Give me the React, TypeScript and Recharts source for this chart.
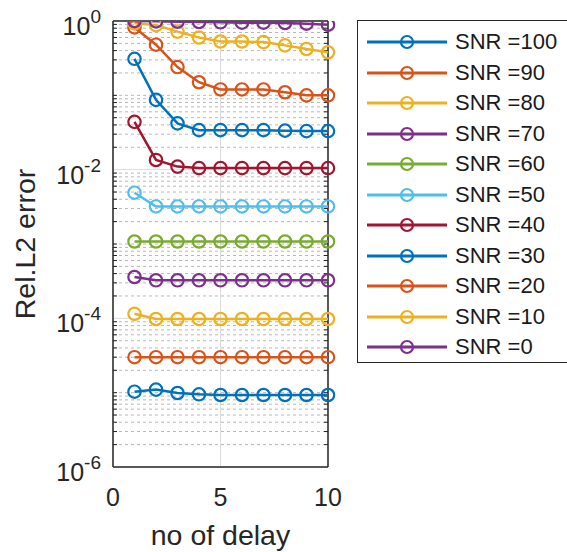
// Rel. L2 error vs number of delays, one line per SNR level (MATLAB-style log plot)

import React from 'react'
import {
  LineChart,
  Line,
  XAxis,
  YAxis,
  CartesianGrid,
  Legend,
  ReferenceLine,
} from 'recharts'

const DELAYS = [1, 2, 3, 4, 5, 6, 7, 8, 9, 10]

const SNR_LEVELS = [100, 90, 80, 70, 60, 50, 40, 30, 20, 10, 0]

const ERR_SNR100 = [1.03e-5, 1.1e-5, 9.9e-6, 9.5e-6, 9.3e-6, 9.3e-6, 9.3e-6, 9.3e-6, 9.3e-6, 9.3e-6]
const ERR_SNR90 = [3.0e-5, 3.0e-5, 3.0e-5, 3.0e-5, 3.0e-5, 3.0e-5, 3.0e-5, 3.0e-5, 3.0e-5, 3.0e-5]
const ERR_SNR80 = [1.15e-4, 9.8e-5, 9.8e-5, 9.8e-5, 9.8e-5, 9.8e-5, 9.8e-5, 9.8e-5, 9.8e-5, 9.8e-5]
const ERR_SNR70 = [3.6e-4, 3.25e-4, 3.25e-4, 3.25e-4, 3.25e-4, 3.25e-4, 3.25e-4, 3.25e-4, 3.25e-4, 3.25e-4]
const ERR_SNR60 = [1.08e-3, 1.08e-3, 1.08e-3, 1.08e-3, 1.08e-3, 1.08e-3, 1.08e-3, 1.08e-3, 1.08e-3, 1.08e-3]
const ERR_SNR50 = [4.9e-3, 3.2e-3, 3.2e-3, 3.2e-3, 3.2e-3, 3.2e-3, 3.2e-3, 3.2e-3, 3.2e-3, 3.2e-3]
const ERR_SNR40 = [0.044, 0.0135, 0.011, 0.0105, 0.0105, 0.0105, 0.0105, 0.0105, 0.0105, 0.0105]
const ERR_SNR30 = [0.31, 0.087, 0.042, 0.034, 0.034, 0.034, 0.034, 0.0335, 0.033, 0.033]
const ERR_SNR20 = [0.82, 0.48, 0.24, 0.15, 0.12, 0.12, 0.12, 0.11, 0.1, 0.1]
const ERR_SNR10 = [0.93, 0.88, 0.72, 0.6, 0.53, 0.53, 0.52, 0.47, 0.42, 0.38]
const ERR_SNR0 = [1.0, 0.99, 0.98, 0.97, 0.96, 0.95, 0.95, 0.94, 0.92, 0.89]

const SERIES_VALUES = [
  ERR_SNR100, ERR_SNR90, ERR_SNR80, ERR_SNR70, ERR_SNR60, ERR_SNR50,
  ERR_SNR40, ERR_SNR30, ERR_SNR20, ERR_SNR10, ERR_SNR0,
]

// MATLAB default colour order, cycling
const SERIES_COLORS = [
  '#0072BD', '#D95319', '#EDB120', '#7E2F8E', '#77AC30', '#4DBEEE',
  '#A2142F', '#0072BD', '#D95319', '#EDB120', '#7E2F8E',
]

const X_TICKS = [0, 5, 10]
const Y_MAJOR_TICKS = [1e-6, 1e-4, 1e-2, 1]

// minor log grid: every 1..9 x 10^k that is not a labelled tick
const Y_MINOR_TICKS: number[] = []
for (let k = -6; k < 0; k++) {
  for (let m = 1; m <= 9; m++) {
    if (!(m === 1 && k % 2 === 0)) Y_MINOR_TICKS.push(m * Math.pow(10, k))
  }
}

const key = (snr: number) => `snr${snr}`

const data = DELAYS.map((d, i) => {
  const row: Record<string, number> = { x: d }
  SNR_LEVELS.forEach((snr, s) => {
    row[key(snr)] = SERIES_VALUES[s][i]
  })
  return row
})

const FONT = '"Liberation Sans", Arial, Helvetica, sans-serif'
const INK = '#262626'

// short inward tick marks on the left and right frame edges
function MinorTickMark(props: any) {
  const { x1, x2, y1 } = props
  return (
    <g>
      <line x1={x1} x2={x1 + 4} y1={y1} y2={y1} stroke={INK} strokeWidth={1} />
      <line x1={x2 - 4} x2={x2} y1={y1} y2={y1} stroke={INK} strokeWidth={1} />
    </g>
  )
}

function PowerTick(props: any) {
  const { x, y, payload } = props
  const exp = Math.round(Math.log10(payload.value))
  return (
    <text x={x} y={y + 14} textAnchor="end" fill={INK} fontFamily={FONT} fontSize={25}>
      10
      <tspan dy={-12} fontSize={19}>{exp}</tspan>
    </text>
  )
}

function SnrLegend() {
  return (
    <div
      style={{
        border: `1.5px solid ${INK}`,
        background: '#fff',
        padding: '6px 0 0 0',
        boxSizing: 'border-box',
        height: 343,
        fontFamily: FONT,
      }}
    >
      {SNR_LEVELS.map((snr, s) => (
        <div key={snr} style={{ display: 'flex', alignItems: 'center', height: 30.5 }}>
          <svg width={97} height={30} style={{ flex: 'none' }}>
            <line x1={9} x2={89} y1={15} y2={15} stroke={SERIES_COLORS[s]} strokeWidth={2.8} />
            <circle cx={49} cy={15} r={6} fill="none" stroke={SERIES_COLORS[s]} strokeWidth={2.2} />
          </svg>
          <span style={{ fontSize: 22, color: '#1a1a1a', whiteSpace: 'nowrap' }}>SNR ={snr}</span>
        </div>
      ))}
    </div>
  )
}

export default function App() {
  return (
    <div style={{ position: 'absolute', left: 0, top: 0, width: 567, height: 552, overflow: 'hidden', background: '#fff' }}>
      <LineChart
        width={567}
        height={552}
        data={data}
        margin={{ top: 21, right: 239, bottom: 0, left: 0 }}
      >
        <CartesianGrid
          yAxisId="main"
          vertical={false}
          horizontalValues={Y_MINOR_TICKS}
          stroke="#b8b8b8"
          strokeDasharray="3 3"
        />
        <CartesianGrid yAxisId="main" stroke="#dcdcdc" />
        <CartesianGrid
          yAxisId="main"
          vertical={false}
          horizontalValues={Y_MINOR_TICKS}
          horizontal={(p: any) => <MinorTickMark key={`mt-${p.index}`} {...p} />}
        />
        <XAxis
          dataKey="x"
          type="number"
          domain={[0, 10]}
          ticks={X_TICKS}
          height={85}
          tickLine={false}
          tickSize={0}
          tickMargin={21}
          axisLine={{ stroke: INK, strokeWidth: 1.5 }}
          tick={{ fill: INK, fontSize: 25, fontFamily: FONT }}
          label={{
            value: 'no of delay',
            position: 'insideBottom',
            offset: 7,
            fill: INK,
            fontSize: 28.5,
            fontFamily: FONT,
          }}
        />
        <YAxis
          yAxisId="main"
          scale="log"
          type="number"
          domain={[1e-6, 1]}
          ticks={Y_MAJOR_TICKS}
          interval={0}
          allowDataOverflow
          width={113}
          tickLine={false}
          tickSize={0}
          tickMargin={12}
          axisLine={{ stroke: INK, strokeWidth: 1.5 }}
          tick={<PowerTick />}
          label={{
            value: 'Rel.L2 error',
            angle: -90,
            position: 'insideLeft',
            offset: 25,
            fill: INK,
            fontSize: 28.5,
            fontFamily: FONT,
            style: { textAnchor: 'middle' },
          }}
        />
        <ReferenceLine yAxisId="main" y={1} stroke={INK} strokeWidth={1.5} />
        <ReferenceLine yAxisId="main" x={10} stroke={INK} strokeWidth={1.5} />
        {SNR_LEVELS.map((snr, s) => (
          <Line
            key={snr}
            yAxisId="main"
            dataKey={key(snr)}
            name={`SNR =${snr}`}
            stroke={SERIES_COLORS[s]}
            strokeWidth={2.5}
            dot={{ r: 6.2, strokeWidth: 2.2, fill: 'none', stroke: SERIES_COLORS[s] }}
            activeDot={false}
            isAnimationActive={false}
          />
        ))}
        <Legend
          layout="vertical"
          align="center"
          verticalAlign="middle"
          wrapperStyle={{ left: 357, top: 20, width: 215, height: 343 }}
          content={<SnrLegend />}
        />
      </LineChart>
    </div>
  )
}
